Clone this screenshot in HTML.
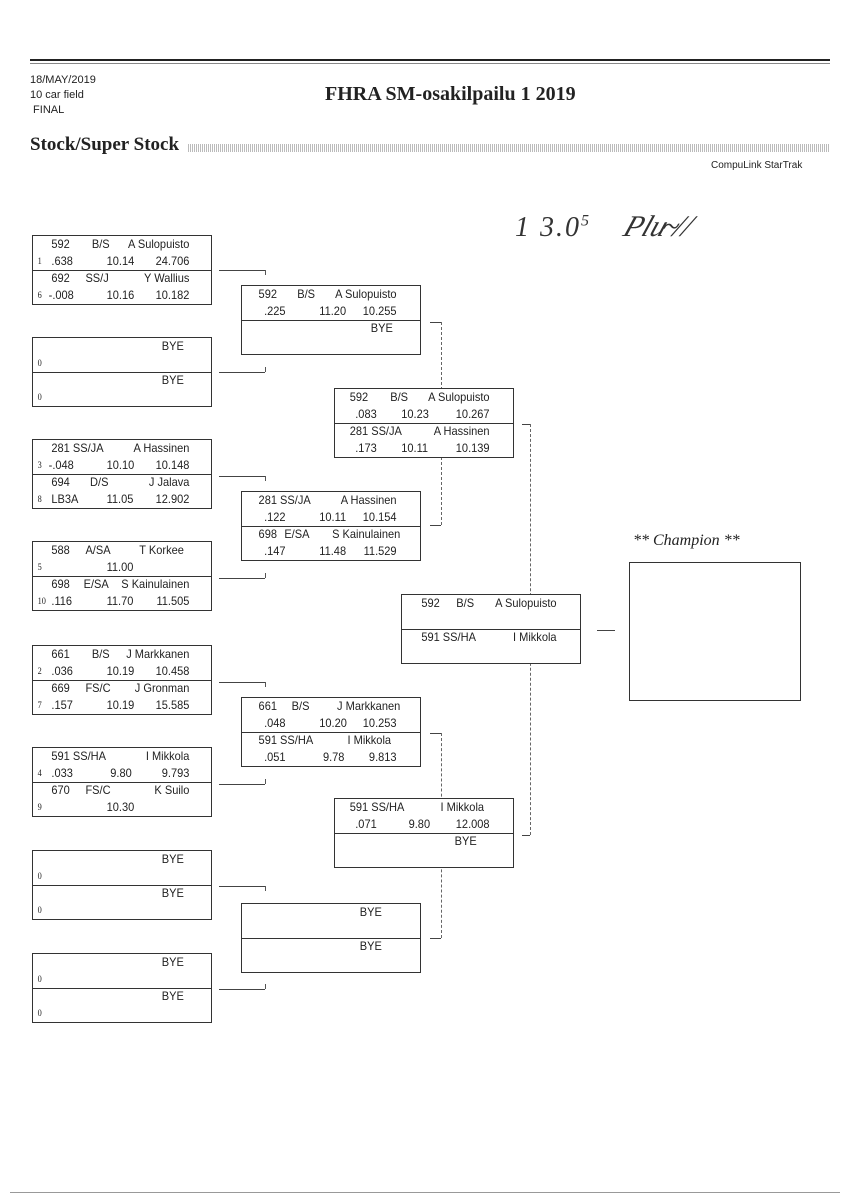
<!DOCTYPE html>
<html><head><meta charset="utf-8"><style>
body{margin:0;background:#fff;}
#p{position:relative;width:848px;height:1200px;overflow:hidden;background:#fff;font-family:"Liberation Sans",sans-serif;color:#222;}
.bx{position:absolute;width:178px;height:68px;border:1px solid #333;background:#fff;}
.bx .m{position:absolute;left:0;right:0;top:34px;border-top:1px solid #333;}
.r{position:absolute;left:0;width:178px;height:17px;font-size:12px;line-height:17px;transform:scaleX(0.92);transform-origin:left;}
.r span{position:absolute;white-space:nowrap;}
.s{font-family:"Liberation Serif",serif;font-size:9px;left:5px;}
.hl{position:absolute;height:0;border-top:1px solid #444;}
.vl{position:absolute;width:0;border-left:1px solid #555;}
.dl{position:absolute;width:0;border-left:1px dashed #666;}
</style></head><body><div id="p">
<div style="position:absolute;left:30px;top:59px;width:800px;border-top:2px solid #222"></div>
<div style="position:absolute;left:30px;top:63px;width:800px;border-top:1px solid #888"></div>
<div style="position:absolute;left:30px;top:73px;font-size:11px;line-height:15px">18/MAY/2019<br>10 car field<br>&nbsp;FINAL</div>
<div style="position:absolute;left:325px;top:83px;font-family:'Liberation Serif',serif;font-weight:bold;font-size:20px">FHRA SM-osakilpailu 1 2019</div>
<div style="position:absolute;left:30px;top:134px;font-family:'Liberation Serif',serif;font-weight:bold;font-size:19px">Stock/Super Stock</div>
<div style="position:absolute;left:188px;top:144px;width:642px;height:8px;background:repeating-linear-gradient(90deg,#bbb 0 1px,#fff 1px 2px)"></div>
<div style="position:absolute;left:711px;top:160px;font-size:10px">CompuLink StarTrak</div>
<div style="position:absolute;left:515px;top:212px;font-size:28px;font-style:italic;font-family:'Liberation Serif',serif;color:#333;letter-spacing:2px">1 3.0<sup style="font-size:16px">5</sup></div>
<div style="position:absolute;left:625px;top:210px;font-size:30px;font-style:italic;font-family:'Liberation Serif',serif;color:#333;transform:skewX(-20deg)">Pl<span style="letter-spacing:-4px">u~</span>//</div>

<!-- R1 -->
<div class="bx" style="left:32px;top:235px"><div class="m"></div>
<div class="r" style="top:0"><span style="left:20px">592</span><span style="left:64px">B/S</span><span style="right:8px">A Sulopuisto</span></div>
<div class="r" style="top:17px"><span class="s">1</span><span style="left:20px">.638</span><span style="left:80px">10.14</span><span style="right:8px">24.706</span></div>
<div class="r" style="top:34px"><span style="left:20px">692</span><span style="left:57px">SS/J</span><span style="right:8px">Y Wallius</span></div>
<div class="r" style="top:51px"><span class="s">6</span><span style="left:17px">-.008</span><span style="left:80px">10.16</span><span style="right:8px">10.182</span></div></div>

<div class="bx" style="left:32px;top:337px"><div class="m"></div>
<div class="r" style="top:0"><span style="right:14px">BYE</span></div>
<div class="r" style="top:17px"><span class="s">0</span></div>
<div class="r" style="top:34px"><span style="right:14px">BYE</span></div>
<div class="r" style="top:51px"><span class="s">0</span></div></div>

<div class="bx" style="left:32px;top:439px"><div class="m"></div>
<div class="r" style="top:0"><span style="left:20px">281 SS/JA</span><span style="right:8px">A Hassinen</span></div>
<div class="r" style="top:17px"><span class="s">3</span><span style="left:17px">-.048</span><span style="left:80px">10.10</span><span style="right:8px">10.148</span></div>
<div class="r" style="top:34px"><span style="left:20px">694</span><span style="left:62px">D/S</span><span style="right:8px">J Jalava</span></div>
<div class="r" style="top:51px"><span class="s">8</span><span style="left:20px">LB3A</span><span style="left:80px">11.05</span><span style="right:8px">12.902</span></div></div>

<div class="bx" style="left:32px;top:541px"><div class="m"></div>
<div class="r" style="top:0"><span style="left:20px">588</span><span style="left:57px">A/SA</span><span style="right:14px">T Korkee</span></div>
<div class="r" style="top:17px"><span class="s">5</span><span style="left:80px">11.00</span></div>
<div class="r" style="top:34px"><span style="left:20px">698</span><span style="left:55px">E/SA</span><span style="right:8px">S Kainulainen</span></div>
<div class="r" style="top:51px"><span class="s">10</span><span style="left:20px">.116</span><span style="left:80px">11.70</span><span style="right:8px">11.505</span></div></div>

<div class="bx" style="left:32px;top:645px"><div class="m"></div>
<div class="r" style="top:0"><span style="left:20px">661</span><span style="left:64px">B/S</span><span style="right:8px">J Markkanen</span></div>
<div class="r" style="top:17px"><span class="s">2</span><span style="left:20px">.036</span><span style="left:80px">10.19</span><span style="right:8px">10.458</span></div>
<div class="r" style="top:34px"><span style="left:20px">669</span><span style="left:57px">FS/C</span><span style="right:8px">J Gronman</span></div>
<div class="r" style="top:51px"><span class="s">7</span><span style="left:20px">.157</span><span style="left:80px">10.19</span><span style="right:8px">15.585</span></div></div>

<div class="bx" style="left:32px;top:747px"><div class="m"></div>
<div class="r" style="top:0"><span style="left:20px">591 SS/HA</span><span style="right:8px">I Mikkola</span></div>
<div class="r" style="top:17px"><span class="s">4</span><span style="left:20px">.033</span><span style="left:84px">9.80</span><span style="right:8px">9.793</span></div>
<div class="r" style="top:34px"><span style="left:20px">670</span><span style="left:57px">FS/C</span><span style="right:8px">K Suilo</span></div>
<div class="r" style="top:51px"><span class="s">9</span><span style="left:80px">10.30</span></div></div>

<div class="bx" style="left:32px;top:850px"><div class="m"></div>
<div class="r" style="top:0"><span style="right:14px">BYE</span></div>
<div class="r" style="top:17px"><span class="s">0</span></div>
<div class="r" style="top:34px"><span style="right:14px">BYE</span></div>
<div class="r" style="top:51px"><span class="s">0</span></div></div>

<div class="bx" style="left:32px;top:953px"><div class="m"></div>
<div class="r" style="top:0"><span style="right:14px">BYE</span></div>
<div class="r" style="top:17px"><span class="s">0</span></div>
<div class="r" style="top:34px"><span style="right:14px">BYE</span></div>
<div class="r" style="top:51px"><span class="s">0</span></div></div>

<!-- R1 connectors -->
<div class="hl" style="left:219px;top:270px;width:46px"></div><div class="vl" style="left:265px;top:270px;height:5px"></div>
<div class="hl" style="left:219px;top:372px;width:46px"></div><div class="vl" style="left:265px;top:367px;height:5px"></div>
<div class="hl" style="left:219px;top:476px;width:46px"></div><div class="vl" style="left:265px;top:476px;height:5px"></div>
<div class="hl" style="left:219px;top:578px;width:46px"></div><div class="vl" style="left:265px;top:573px;height:5px"></div>
<div class="hl" style="left:219px;top:682px;width:46px"></div><div class="vl" style="left:265px;top:682px;height:5px"></div>
<div class="hl" style="left:219px;top:784px;width:46px"></div><div class="vl" style="left:265px;top:779px;height:5px"></div>
<div class="hl" style="left:219px;top:886px;width:46px"></div><div class="vl" style="left:265px;top:886px;height:5px"></div>
<div class="hl" style="left:219px;top:989px;width:46px"></div><div class="vl" style="left:265px;top:984px;height:5px"></div>

<!-- R2 connectors (dashed) -->
<div class="hl" style="left:430px;top:322px;width:11px"></div><div class="dl" style="left:441px;top:322px;height:203px"></div><div class="hl" style="left:430px;top:525px;width:11px"></div>
<div class="hl" style="left:430px;top:733px;width:11px"></div><div class="dl" style="left:441px;top:733px;height:205px"></div><div class="hl" style="left:430px;top:938px;width:11px"></div>
<div class="hl" style="left:522px;top:424px;width:8px"></div><div class="dl" style="left:530px;top:424px;height:411px"></div><div class="hl" style="left:522px;top:835px;width:8px"></div>
<div class="hl" style="left:597px;top:630px;width:18px"></div>

<!-- R2 -->
<div class="bx" style="left:241px;top:285px"><div class="m"></div>
<div class="r" style="top:0"><span style="left:18px">592</span><span style="left:60px">B/S</span><span style="right:10px">A Sulopuisto</span></div>
<div class="r" style="top:17px"><span style="left:24px">.225</span><span style="left:84px">11.20</span><span style="right:10px">10.255</span></div>
<div class="r" style="top:34px"><span style="right:14px">BYE</span></div></div>

<div class="bx" style="left:241px;top:491px"><div class="m"></div>
<div class="r" style="top:0"><span style="left:18px">281 SS/JA</span><span style="right:10px">A Hassinen</span></div>
<div class="r" style="top:17px"><span style="left:24px">.122</span><span style="left:84px">10.11</span><span style="right:10px">10.154</span></div>
<div class="r" style="top:34px"><span style="left:18px">698</span><span style="left:46px">E/SA</span><span style="right:6px">S Kainulainen</span></div>
<div class="r" style="top:51px"><span style="left:24px">.147</span><span style="left:84px">11.48</span><span style="right:10px">11.529</span></div></div>

<div class="bx" style="left:241px;top:697px"><div class="m"></div>
<div class="r" style="top:0"><span style="left:18px">661</span><span style="left:54px">B/S</span><span style="right:6px">J Markkanen</span></div>
<div class="r" style="top:17px"><span style="left:24px">.048</span><span style="left:84px">10.20</span><span style="right:10px">10.253</span></div>
<div class="r" style="top:34px"><span style="left:18px">591 SS/HA</span><span style="right:16px">I Mikkola</span></div>
<div class="r" style="top:51px"><span style="left:24px">.051</span><span style="left:88px">9.78</span><span style="right:10px">9.813</span></div></div>

<div class="bx" style="left:241px;top:903px"><div class="m"></div>
<div class="r" style="top:0"><span style="right:26px">BYE</span></div>
<div class="r" style="top:34px"><span style="right:26px">BYE</span></div></div>

<!-- R3 -->
<div class="bx" style="left:334px;top:388px"><div class="m"></div>
<div class="r" style="top:0"><span style="left:16px">592</span><span style="left:60px">B/S</span><span style="right:10px">A Sulopuisto</span></div>
<div class="r" style="top:17px"><span style="left:22px">.083</span><span style="left:72px">10.23</span><span style="right:10px">10.267</span></div>
<div class="r" style="top:34px"><span style="left:16px">281 SS/JA</span><span style="right:10px">A Hassinen</span></div>
<div class="r" style="top:51px"><span style="left:22px">.173</span><span style="left:72px">10.11</span><span style="right:10px">10.139</span></div></div>

<div class="bx" style="left:334px;top:798px"><div class="m"></div>
<div class="r" style="top:0"><span style="left:16px">591 SS/HA</span><span style="right:16px">I Mikkola</span></div>
<div class="r" style="top:17px"><span style="left:22px">.071</span><span style="left:80px">9.80</span><span style="right:10px">12.008</span></div>
<div class="r" style="top:34px"><span style="right:24px">BYE</span></div></div>

<!-- Final -->
<div class="bx" style="left:401px;top:594px;height:68px"><div class="m"></div>
<div class="r" style="top:0"><span style="left:21px">592</span><span style="left:59px">B/S</span><span style="right:10px">A Sulopuisto</span></div>
<div class="r" style="top:34px"><span style="left:21px">591 SS/HA</span><span style="right:10px">I Mikkola</span></div></div>

<div style="position:absolute;left:633px;top:532px;font-family:'Liberation Serif',serif;font-style:italic;font-size:16px">** Champion **</div>
<div style="position:absolute;left:629px;top:562px;width:170px;height:137px;border:1px solid #333"></div>

<div style="position:absolute;left:10px;top:1192px;width:830px;border-top:1px solid #999"></div>
</div></body></html>
